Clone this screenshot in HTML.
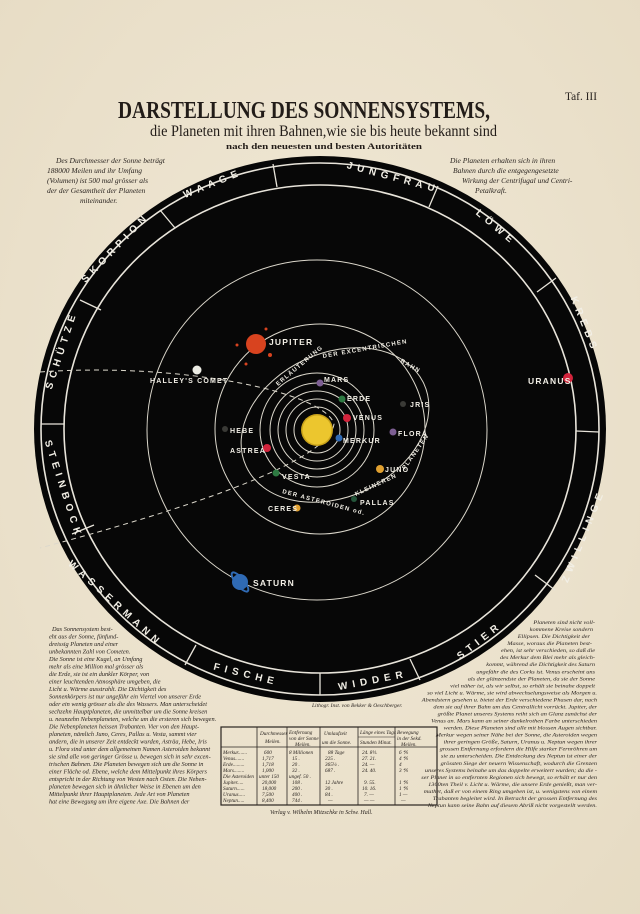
<!DOCTYPE html>
<html><head><meta charset="utf-8"><style>
html,body{margin:0;padding:0;background:#ece3cf;}
svg{display:block}
.it{font-family:"Liberation Serif",serif;font-style:italic;fill:#2a2420;}
.w{font-family:"Liberation Sans",sans-serif;fill:#f2efe6;font-weight:bold;}
</style></head><body>
<svg width="640" height="914" viewBox="0 0 640 914" xmlns="http://www.w3.org/2000/svg">
<defs>
<radialGradient id="bg" cx="50%" cy="45%" r="75%"><stop offset="0" stop-color="#f1e9d7"/><stop offset="1" stop-color="#e6dbc3"/></radialGradient>
</defs>
<rect width="640" height="914" fill="url(#bg)"/>

<text x="565" y="100" font-family="Liberation Serif,serif" font-size="12" fill="#2a2420" textLength="32" lengthAdjust="spacingAndGlyphs">Taf. III</text>
<text x="118" y="118" font-family="Liberation Serif,serif" font-weight="bold" font-size="24" fill="#221c18" textLength="372" lengthAdjust="spacingAndGlyphs">DARSTELLUNG DES SONNENSYSTEMS,</text>
<text x="150" y="136" font-family="Liberation Serif,serif" font-size="16" fill="#221c18" textLength="347" lengthAdjust="spacingAndGlyphs">die Planeten mit ihren Bahnen,wie sie bis heute bekannt sind</text>
<text x="226" y="149" font-family="Liberation Serif,serif" font-weight="bold" font-size="8" fill="#221c18" textLength="196" lengthAdjust="spacingAndGlyphs">nach den neuesten und besten Autoritäten</text>

<g class="it" font-size="7.5">
<text x="56" y="163">Des Durchmesser der Sonne beträgt</text>
<text x="47" y="173">188000 Meilen und ihr Umfang</text>
<text x="47" y="183">(Volumen) ist 500 mal grösser als</text>
<text x="47" y="193">der der Gesamtheit der Planeten</text>
<text x="80" y="203">miteinander.</text>
<text x="450" y="163">Die Planeten erhalten sich in ihren</text>
<text x="453" y="173">Bahnen durch die entgegengesetzte</text>
<text x="462" y="183">Wirkung der Centrifugal und Centri-</text>
<text x="475" y="193">Petalkraft.</text>
</g>

<ellipse cx="320" cy="429" rx="286" ry="273" fill="#070707"/>
<ellipse cx="320" cy="429" rx="279" ry="266" fill="none" stroke="#e8e4da" stroke-width="1.6"/>
<ellipse cx="320" cy="429" rx="256" ry="244" fill="none" stroke="#e8e4da" stroke-width="1.6"/>

<g stroke="#e8e4da" stroke-width="1.3">
<line x1="273" y1="164" x2="277" y2="187"/>
<line x1="438" y1="186" x2="429" y2="207"/>
<line x1="556" y1="278" x2="537" y2="292"/>
<line x1="599" y1="432" x2="576" y2="431"/>
<line x1="555" y1="590" x2="535" y2="575"/>
<line x1="420" y1="680" x2="410" y2="659"/>
<line x1="320" y1="695" x2="320" y2="673"/>
<line x1="185" y1="665" x2="196" y2="645"/>
<line x1="72" y1="534" x2="94" y2="525"/>
<line x1="41" y1="424" x2="64" y2="424"/>
<line x1="80" y1="300" x2="101" y2="310"/>
<line x1="160" y1="210" x2="175" y2="228"/>
</g>

<g class="w" font-size="10" letter-spacing="5" text-anchor="middle" dominant-baseline="central">
<text transform="translate(213,184) rotate(-22)">WAAGE</text>
<text transform="translate(393,178) rotate(15)">JUNGFRAU</text>
<text transform="translate(496,228) rotate(40)">LÖWE</text>
<text transform="translate(584,325) rotate(68)">KREBS</text>
<text transform="translate(584,536) rotate(-68)">ZWILLINGE</text>
<text transform="translate(480,641) rotate(-38)">STIER</text>
<text transform="translate(373,681) rotate(-11)">WIDDER</text>
<text transform="translate(246,675) rotate(14)">FISCHE</text>
<text transform="translate(115,604) rotate(42)">WASSERMANN</text>
<text transform="translate(63,490) rotate(72)">STEINBOCK</text>
<text transform="translate(62,350) rotate(-72)">SCHÜTZE</text>
<text transform="translate(116,248) rotate(-46)">SKORPION</text>
</g>

<g fill="none" stroke="#dcd8cc" stroke-width="1">
<circle cx="317" cy="430" r="23"/>
<circle cx="317" cy="430" r="31"/>
<circle cx="317" cy="430" r="39"/>
<circle cx="317" cy="430" r="47"/>
<circle cx="317" cy="430" r="57"/>
<circle cx="320" cy="429" r="105"/>
<circle cx="317" cy="430" r="170"/>
<ellipse cx="335" cy="425" rx="98" ry="72" transform="rotate(-25 335 425)"/>
<path d="M40,372 C180,362 325,392 334,424 C330,452 250,492 40,548" stroke-dasharray="5,4"/>
</g>

<circle cx="317" cy="430" r="16" fill="#c9a21a"/>
<circle cx="317" cy="430" r="14.5" fill="#ecc62e"/>

<circle cx="256" cy="344" r="10" fill="#d8431f"/>
<circle cx="266" cy="329" r="1.5" fill="#d8431f"/><circle cx="270" cy="355" r="2" fill="#d8431f"/><circle cx="246" cy="364" r="1.5" fill="#d8431f"/><circle cx="237" cy="345" r="1.5" fill="#d8431f"/>
<circle cx="197" cy="370" r="4.5" fill="#ecece4"/>
<circle cx="320" cy="383" r="3.5" fill="#7d5f93"/>
<circle cx="342" cy="399" r="3.5" fill="#2e7a42"/>
<circle cx="347" cy="418" r="4" fill="#d2243c"/>
<circle cx="339" cy="438" r="3.5" fill="#2f6ab4"/>
<circle cx="403" cy="404" r="3" fill="#3a3a36"/>
<circle cx="393" cy="432" r="3.5" fill="#7d5f93"/>
<circle cx="225" cy="429" r="3" fill="#3a3a36"/>
<circle cx="267" cy="448" r="4" fill="#d2243c"/>
<circle cx="276" cy="473" r="3.5" fill="#2e7a42"/>
<circle cx="380" cy="469" r="4" fill="#e0a030"/>
<circle cx="354" cy="499" r="3" fill="#24553a"/>
<circle cx="297" cy="508" r="3.5" fill="#e0a030"/>
<ellipse cx="240" cy="582" rx="12" ry="4" fill="none" stroke="#2f6ab4" stroke-width="2" transform="rotate(50 240 582)"/>
<circle cx="240" cy="582" r="8" fill="#2f6ab4"/>
<circle cx="568" cy="378" r="5" fill="#d2243c"/>

<g class="w" font-size="7" letter-spacing="1.2">
<text x="269" y="345" font-size="8.5">JUPITER</text>
<text x="150" y="383">HALLEY'S COMET</text>
<text x="324" y="382">MARS</text>
<text x="347" y="401">ERDE</text>
<text x="353" y="420">VENUS</text>
<text x="343" y="443">MERKUR</text>
<text x="410" y="407">JRIS</text>
<text x="398" y="436">FLORA</text>
<text x="230" y="433">HEBE</text>
<text x="230" y="453">ASTREA</text>
<text x="282" y="479">VESTA</text>
<text x="385" y="472">JUNO</text>
<text x="360" y="505">PALLAS</text>
<text x="268" y="511">CERES</text>
<text x="253" y="586" font-size="8.5">SATURN</text>
<text x="528" y="384" font-size="8.5">URANUS</text>
<text transform="translate(278,386) rotate(-40)" font-size="6">ERLÄUTERUNG</text>
<text transform="translate(323,358) rotate(-10)" font-size="6">DER EXCENTRISCHEN</text>
<text transform="translate(400,362) rotate(30)" font-size="6">BAHN</text>
<text transform="translate(282,493) rotate(15)" font-size="6">DER ASTEROIDEN od.</text>
<text transform="translate(356,496) rotate(-25)" font-size="6">KLEINEREN</text>
<text transform="translate(405,470) rotate(-55)" font-size="6">PLANETEN</text>
</g>

<text x="312" y="707" class="it" font-size="5.5">Lithogr. Inst. von Bekker &amp; Oeschberger.</text>

<g class="it" font-size="6.3" transform="translate(0,37.6) scale(1,0.9375)">
<text x="52" y="633">Das Sonnensystem best-</text>
<text x="49" y="641">eht aus der Sonne, fünfund-</text>
<text x="49" y="649">dreissig Planeten und einer</text>
<text x="49" y="657">unbekannten Zahl von Cometen.</text>
<text x="49" y="665">Die Sonne ist eine Kugel, an Umfang</text>
<text x="49" y="673">mehr als eine Million mal grösser als</text>
<text x="49" y="681">die Erde, sie ist ein dunkler Körper, von</text>
<text x="49" y="689">einer leuchtenden Atmosphäre umgeben, die</text>
<text x="49" y="697">Licht u. Wärme ausstrahlt.   Die Dichtigkeit des</text>
<text x="49" y="705">Sonnenkörpers ist nur ungefähr ein Viertel von unserer Erde</text>
<text x="49" y="713">oder ein wenig grösser als die des Wassers. Man unterscheidet</text>
<text x="49" y="721">sechzehn Hauptplaneten, die unmittelbar um die Sonne kreisen</text>
<text x="49" y="729">u. neunzehn Nebenplaneten, welche um die ersteren sich bewegen.</text>
<text x="49" y="737">Die Nebenplaneten heissen Trabanten. Vier von den Haupt-</text>
<text x="49" y="745">planeten, nämlich Juno, Ceres, Pallas u. Vesta, sammt vier</text>
<text x="49" y="753">andern, die in unserer Zeit entdeckt wurden, Asträa, Hebe, Iris</text>
<text x="49" y="761">u. Flora sind unter dem allgemeinen Namen Asteroiden bekannt</text>
<text x="49" y="769">sie sind alle von geringer Grösse u. bewegen sich in sehr excen-</text>
<text x="49" y="777">trischen Bahnen. Die Planeten bewegen sich um die Sonne in</text>
<text x="49" y="785">einer Fläche od. Ebene, welche dem Mittelpunkt ihres Körpers</text>
<text x="49" y="793">entspricht in der Richtung von Westen nach Osten. Die Neben-</text>
<text x="49" y="801">planeten bewegen sich in ähnlicher Weise in Ebenen um den</text>
<text x="49" y="809">Mittelpunkt ihrer Hauptplaneten. Jede Art von Planeten</text>
<text x="49" y="817">hat eine Bewegung um ihre eigene Axe. Die Bahnen der</text>
</g>

<g class="it" font-size="6.3" text-anchor="end" transform="translate(0,73.1) scale(1,0.88)">
<text x="595" y="626">Planeten sind nicht voll-</text>
<text x="593" y="634">kommene Kreise sondern</text>
<text x="590" y="642">Ellipsen. Die Dichtigkeit der</text>
<text x="592" y="650">Masse, woraus die Planeten best-</text>
<text x="595" y="658">ehen, ist sehr verschieden, so daß die</text>
<text x="595" y="666">des Merkur dem Blei mehr als gleich-</text>
<text x="595" y="674">kommt, während die Dichtigkeit des Saturn</text>
<text x="595" y="682">ungefähr die des Corks ist. Venus erscheint uns</text>
<text x="595" y="690">als der glänzendste der Planeten, da sie der Sonne</text>
<text x="595" y="698">viel näher ist, als wir selbst, so erhält sie beinahe doppelt</text>
<text x="597" y="706">so viel Licht u. Wärme, sie wird abwechselungsweise als Morgen u.</text>
<text x="597" y="714">Abendstern gesehen u. bietet der Erde verschiedene Phasen dar, nach</text>
<text x="597" y="722">dem sie auf ihrer Bahn um das Centrallicht vorrückt. Jupiter, der</text>
<text x="597" y="730">größte Planet unseres Systems reiht sich an Glanz zunächst der</text>
<text x="597" y="738">Venus an. Mars kann an seiner dunkelrothen Farbe unterschieden</text>
<text x="597" y="746">werden. Diese Planeten sind alle mit blossen Augen sichtbar.</text>
<text x="597" y="754">Merkur wegen seiner Nähe bei der Sonne, die Asteroiden wegen</text>
<text x="597" y="762">ihrer geringen Größe, Saturn, Uranus u. Neptun wegen ihrer</text>
<text x="597" y="770">grossen Entfernung erfordern die Hilfe starker Fernröhren um</text>
<text x="597" y="778">sie zu unterscheiden. Die Entdeckung des Neptun ist einer der</text>
<text x="597" y="786">grössten Siege der neuern Wissenschaft, wodurch die Grenzen</text>
<text x="597" y="794">unseres Systems beinahe um das doppelte erweitert wurden; da die -</text>
<text x="597" y="802">ser Planet in so entfernten Regionen sich bewegt, so erhält er nur den</text>
<text x="597" y="810">1300ten Theil v. Licht u. Wärme, die unsere Erde genießt, man ver-</text>
<text x="597" y="818">muthet, daß er von einem Ring umgeben ist, u. wenigstens von einem</text>
<text x="597" y="826">Trabanten begleitet wird. In Betracht der grossen Entfernung des</text>
<text x="597" y="834">Neptun kann seine Bahn auf diesem Abriß nicht vorgestellt werden.</text>
</g>

<g stroke="#2a2420" fill="none">
<rect x="221" y="727" width="216" height="78" stroke-width="1.2"/>
<line x1="221" y1="747" x2="437" y2="747" stroke-width="0.8"/>
<line x1="257" y1="727" x2="257" y2="805" stroke-width="0.8"/>
<line x1="287" y1="727" x2="287" y2="805" stroke-width="0.8"/>
<line x1="320" y1="727" x2="320" y2="805" stroke-width="0.8"/>
<line x1="358" y1="727" x2="358" y2="805" stroke-width="0.8"/>
<line x1="395" y1="727" x2="395" y2="805" stroke-width="0.8"/>
<line x1="358" y1="737" x2="395" y2="737" stroke-width="0.6"/>
</g>
<g class="it" font-size="5.2">
<text x="260" y="735">Durchmesser</text><text x="265" y="743">Meilen.</text>
<text x="289" y="734">Entfernung</text><text x="289" y="740">von der Sonne</text><text x="295" y="746">Meilen.</text>
<text x="324" y="735">Umlaufzeit</text><text x="322" y="744">um die Sonne.</text>
<text x="360" y="734">Länge eines Tags</text><text x="360" y="744">Stunden Minut.</text>
<text x="397" y="734">Bewegung</text><text x="397" y="740">in der Sekd.</text><text x="401" y="746">Meilen.</text>
<text x="223" y="754">Merkur.......</text><text x="264" y="754">600</text><text x="289" y="754">8 Millionen</text><text x="328" y="754">88 Tage</text><text x="362" y="754">24.   8½.</text><text x="399" y="754">6 ⅘</text>
<text x="223" y="760">Venus.......</text><text x="262" y="760">1,717</text><text x="292" y="760">15  .</text><text x="325" y="760">225  .</text><text x="362" y="760">27.   21.</text><text x="399" y="760">4 ⅘</text>
<text x="223" y="766">Erde.........</text><text x="262" y="766">1,718</text><text x="292" y="766">20  .</text><text x="325" y="766">365¼ .</text><text x="362" y="766">24.    —</text><text x="399" y="766">4</text>
<text x="223" y="772">Mars........</text><text x="262" y="772">1,000</text><text x="292" y="772">32  .</text><text x="325" y="772">687  .</text><text x="362" y="772">24.   40.</text><text x="399" y="772">3 ⅘</text>
<text x="223" y="778">Die Asteroiden</text><text x="259" y="778">unter 150</text><text x="289" y="778">ungef. 50 .</text>
<text x="223" y="784">Jupiter.....</text><text x="262" y="784">20,000</text><text x="292" y="784">108  .</text><text x="325" y="784">12 Jahre</text><text x="364" y="784">9.    55.</text><text x="399" y="784">1 ⅘</text>
<text x="223" y="790">Saturn......</text><text x="262" y="790">18,000</text><text x="292" y="790">200  .</text><text x="325" y="790">30   .</text><text x="362" y="790">10.   16.</text><text x="399" y="790">1 ⅘</text>
<text x="223" y="796">Uranus.....</text><text x="262" y="796">7,500</text><text x="292" y="796">400  .</text><text x="325" y="796">84   .</text><text x="364" y="796">7.     —</text><text x="399" y="796">1 —</text>
<text x="223" y="802">Neptun.....</text><text x="262" y="802">8,400</text><text x="292" y="802">744  .</text><text x="328" y="802">—</text><text x="364" y="802">—     —</text><text x="401" y="802">—</text>
</g>
<text x="270" y="814" class="it" font-size="6">Verlag v. Wilhelm Mitzschke in Schw. Hall.</text>
</svg>
</body></html>
